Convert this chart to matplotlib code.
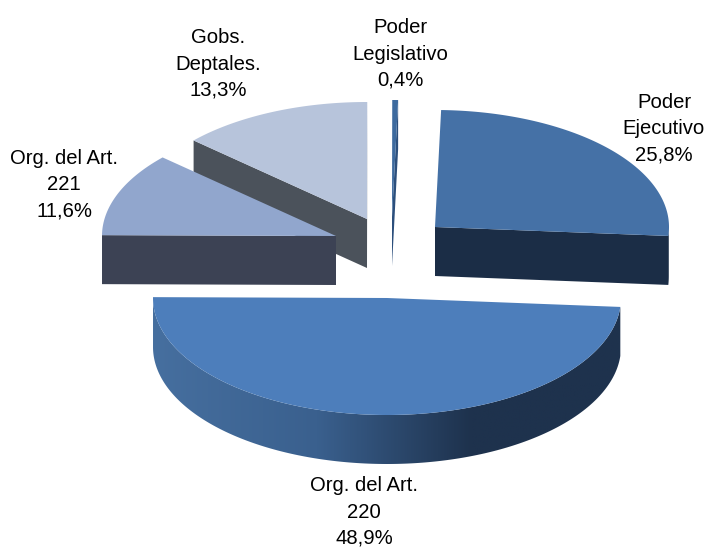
import numpy as np
import matplotlib
matplotlib.use("Agg")
import matplotlib.pyplot as plt
from matplotlib.colors import LinearSegmentedColormap
from matplotlib.patches import Polygon

# shares in percent, clockwise from the top
names = ["Poder\nEjecutivo", "Org. del Art.\n220", "Org. del Art.\n221", "Gobs.\nDeptales.", "Poder\nLegislativo"]
shares = [25.8, 48.9, 11.6, 13.3, 0.4]
share_labels = ["25,8%", "48,9%", "11,6%", "13,3%", "0,4%"]

# layout, in image pixels
apex_x = [435, 387, 336, 367, 392]
apex_y = [227, 298, 236, 219, 217]
label_x = [664, 364, 64, 218, 400]
label_y = [129, 512, 185, 64, 54]
top_colors = ["#4571a6", "#4d7ebb", "#91a6cd", "#b7c4db", "#3d6a9e"]
wall_colors = ["#1b2d46", "#1e324d", "#3c4254", "#4b525b", "#2c4f7c"]
draw_order = [3, 4, 0, 2, 1]
rx, ry, depth = 234, 117, 49
start_angle = 1.5

plt.rcParams["font.family"] = ["Liberation Sans", "DejaVu Sans"]

fig = plt.figure(figsize=(7.06, 5.47), dpi=100)
ax = fig.add_axes([0, 0, 1, 1])
ax.set_xlim(0, 706)
ax.set_ylim(547, 0)
ax.axis("off")

wall_cmap = LinearSegmentedColormap.from_list(
    "wall", [(0, "#466f9f"), (0.35, "#3a608e"), (0.68, "#1e324d"), (1, "#1e324d")])

edges = start_angle + np.cumsum([0] + [s * 3.6 for s in shares])


def rim(cx, cy, a, b):
    t = np.radians(np.linspace(a, b, 200))
    return np.column_stack([cx + rx * np.sin(t), cy - ry * np.cos(t)])


for z, i in enumerate(draw_order):
    cx, cy = apex_x[i], apex_y[i]
    a, b = edges[i], edges[i + 1]

    # outer wall, only the part facing the viewer
    lo, hi = max(a, 90), min(b, 270.5)
    if lo < hi:
        arc = rim(cx, cy, lo, hi)
        wall = np.vstack([arc, (arc + [0, depth])[::-1]])
        patch = Polygon(wall, closed=True, fc=wall_colors[i], ec="none", zorder=2 + z)
        ax.add_patch(patch)
        if shares[i] > 40:
            patch.set_facecolor("none")
            grad = np.linspace(0, 1, 256).reshape(1, -1)
            im = ax.imshow(grad, cmap=wall_cmap, extent=(arc[:, 0].min(), arc[:, 0].max(), 480, 290),
                           aspect="auto", zorder=2 + z)
            im.set_clip_path(patch)

    # cut faces
    faces = []
    if 180 < a % 360 < 360:
        faces.append(a)
    if 0 < b % 360 < 180:
        faces.append(b)
    for f in faces:
        p = rim(cx, cy, f, f)[0]
        ax.add_patch(Polygon([[cx, cy], p, p + [0, depth], [cx, cy + depth]], closed=True,
                             fc=wall_colors[i], ec="none", zorder=2 + z))

    # top surface
    top = np.vstack([[cx, cy], rim(cx, cy, a, b)])
    ax.add_patch(Polygon(top, closed=True, fc=top_colors[i], ec="none", zorder=2.5 + z))

for i in range(len(names)):
    ax.text(label_x[i], label_y[i], names[i] + "\n" + share_labels[i], ha="center", va="center",
            fontsize=14.6, linespacing=1.47, color="black", zorder=20, clip_on=False)

ax.set_xlim(0, 706)
ax.set_ylim(547, 0)
fig.savefig("out.png", dpi=100)
